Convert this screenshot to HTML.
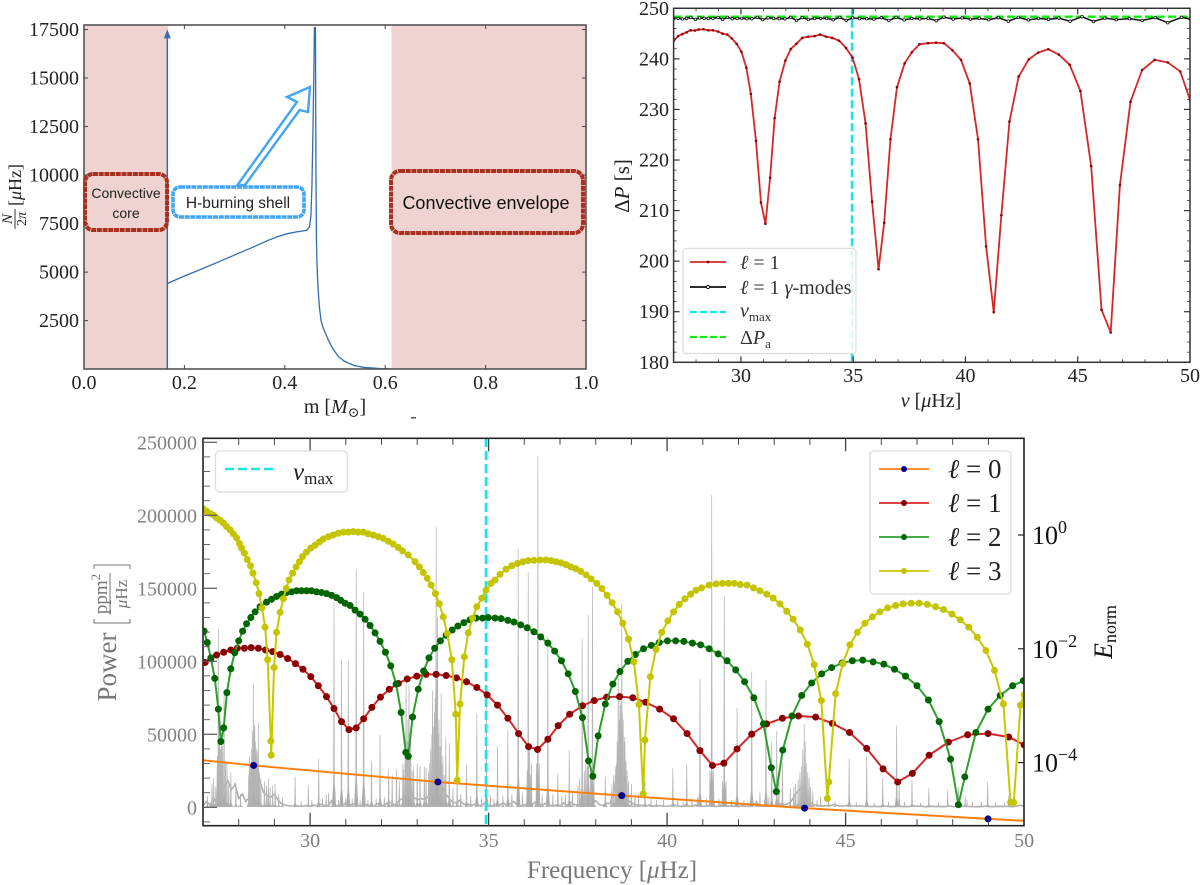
<!DOCTYPE html>
<html lang="en">
<head>
<meta charset="utf-8">
<title>Stellar oscillation chart</title>
<style>
html,body{margin:0;padding:0;background:#fff;}
svg{display:block;font-family:"Liberation Serif","DejaVu Serif",serif;filter:blur(0.35px);}
</style>
</head>
<body>
<svg id="figure" xmlns="http://www.w3.org/2000/svg" width="1200" height="885" viewBox="0 0 1200 885">
  <defs>
    <clipPath id="clip-a"><rect x="84" y="25" width="502" height="344"/></clipPath>
    <clipPath id="clip-b"><rect x="673.6" y="8.3" width="516.4" height="354"/></clipPath>
    <clipPath id="clip-c"><rect x="203" y="438.3" width="821" height="387.4"/></clipPath>
  </defs>
  <rect width="1200" height="885" fill="#fff"/>

  <!-- PANEL A -->
  <g id="panel-a">
    <rect x="84" y="25" width="84" height="344" fill="#eed3d0"/>
    <rect x="391.5" y="25" width="194.5" height="344" fill="#eed3d0"/>
    <g id="a-marks" clip-path="url(#clip-a)"></g>
    <rect x="84" y="25" width="502" height="344" fill="none" stroke="#555" stroke-width="1.6"/>
    <g id="a-ticks"></g>

    <rect x="85" y="174" width="82" height="56" rx="8" fill="none" stroke="#a8301f" stroke-width="4" stroke-dasharray="5 0.7"/>
    <text x="126" y="198" font-family="Liberation Sans, sans-serif" font-size="14" text-anchor="middle" fill="#222">Convective</text>
    <text x="126" y="218" font-family="Liberation Sans, sans-serif" font-size="14" text-anchor="middle" fill="#222">core</text>
    <rect x="173" y="187" width="131" height="30" rx="7" fill="#fff" stroke="#42a5f5" stroke-width="3.6" stroke-dasharray="5 0.7"/>
    <text x="238" y="208" font-family="Liberation Sans, sans-serif" font-size="15.5" text-anchor="middle" fill="#222">H-burning shell</text>
    <polygon points="237.5,185 297,102 287,97 310,87 308,112 299.6,110 245,185" fill="#fff" stroke="#42a5f5" stroke-width="2.4" stroke-linejoin="miter"/>
    <rect x="391" y="171" width="192" height="62" rx="9" fill="none" stroke="#a8301f" stroke-width="4" stroke-dasharray="5 0.7"/>
    <text x="486" y="209" font-family="Liberation Sans, sans-serif" font-size="18" text-anchor="middle" fill="#111">Convective envelope</text>

    <text x="335" y="413" font-size="20" text-anchor="middle" fill="#222">m [<tspan font-style="italic">M</tspan><tspan font-size="14" dy="4">⊙</tspan><tspan dy="-4">]</tspan></text>
    <g transform="translate(0,197) rotate(-90)">
      <text x="-22" y="12" font-size="15" font-style="italic" text-anchor="middle" fill="#222">N</text>
      <line x1="-32" x2="-12" y1="15" y2="15" stroke="#222" stroke-width="0.9"/>
      <text x="-22" y="26" font-size="14" text-anchor="middle" fill="#222">2<tspan font-style="italic">π</tspan></text>
      <text x="-9" y="21" font-size="18" fill="#222">[<tspan font-style="italic">μ</tspan>Hz]</text>
    </g>
    <rect x="411" y="417" width="5" height="1.5" fill="#555"/>
  </g>

  <!-- PANEL B -->
  <g id="panel-b">
    <g id="b-marks" clip-path="url(#clip-b)"></g>
    <rect x="673.6" y="8.3" width="516.4" height="354" fill="none" stroke="#333" stroke-width="1.5"/>
    <g id="b-ticks"></g>
    <g id="b-legend">
      <rect x="683" y="248.5" width="173" height="105" rx="3" fill="#fff" fill-opacity="0.82" stroke="#ddd" stroke-width="1.2"/>
      <line x1="690" x2="726" y1="262" y2="262" stroke="#d62728" stroke-width="1.8"/>
      <circle cx="708" cy="262" r="1.4" fill="#8b0000"/>
      <text x="740" y="269" font-size="20" fill="#333"><tspan font-style="italic">ℓ</tspan> = 1</text>
      <line x1="690" x2="726" y1="287" y2="287" stroke="#111" stroke-width="1.8"/>
      <circle cx="708" cy="287" r="1.6" fill="#fff" stroke="#111"/>
      <text x="740" y="294" font-size="20" fill="#333"><tspan font-style="italic">ℓ</tspan> = 1 <tspan font-style="italic">γ</tspan>-modes</text>
      <line x1="690" x2="726" y1="312" y2="312" stroke="#19e5e5" stroke-width="2.2" stroke-dasharray="7 3"/>
      <text x="740" y="317" font-size="20" font-style="italic" fill="#333">ν<tspan font-size="13" font-style="normal" dy="4">max</tspan></text>
      <line x1="690" x2="726" y1="337" y2="337" stroke="#19e619" stroke-width="2.2" stroke-dasharray="7 3"/>
      <text x="740" y="344" font-size="20" fill="#333">Δ<tspan font-style="italic">P</tspan><tspan font-size="13" dy="4">a</tspan></text>
    </g>
    <text x="931" y="407" font-size="20" text-anchor="middle" fill="#222"><tspan font-style="italic">ν</tspan> [<tspan font-style="italic">μ</tspan>Hz]</text>
    <text transform="translate(629,186) rotate(-90)" font-size="21" text-anchor="middle" fill="#222">Δ<tspan font-style="italic">P</tspan> [s]</text>
  </g>

  <!-- PANEL C -->
  <g id="panel-c">
    <g id="c-marks" clip-path="url(#clip-c)"></g>
    <rect x="203" y="438.3" width="821" height="387.4" fill="none" stroke="#222" stroke-width="1.6"/>
    <g id="c-ticks"></g>

    <g>
      <rect x="215.5" y="451" width="132" height="41" rx="4" fill="#fff" fill-opacity="0.85" stroke="#ddd" stroke-width="1.3"/>
      <line x1="225" x2="274" y1="469" y2="469" stroke="#19e5e5" stroke-width="2.4" stroke-dasharray="9 4"/>
      <text x="293" y="480" font-size="25" font-style="italic" fill="#222">ν<tspan font-size="17" font-style="normal" dy="4">max</tspan></text>
    </g>
    <g>
      <rect x="870" y="451" width="141" height="143" rx="4" fill="#fff" fill-opacity="0.88" stroke="#ddd" stroke-width="1.3"/>
      <line x1="879" x2="929" y1="469" y2="469" stroke="#ff7f0e" stroke-width="1.8"/>
      <circle cx="904" cy="469" r="3" fill="#00008b"/>
      <text x="948" y="478" font-size="27" fill="#222"><tspan font-style="italic">ℓ</tspan> = 0</text>
      <line x1="879" x2="929" y1="503" y2="503" stroke="#d62728" stroke-width="1.8"/>
      <circle cx="904" cy="503" r="3" fill="#8b0000"/>
      <text x="948" y="512" font-size="27" fill="#222"><tspan font-style="italic">ℓ</tspan> = 1</text>
      <line x1="879" x2="929" y1="537" y2="537" stroke="#2ca02c" stroke-width="1.8"/>
      <circle cx="904" cy="537" r="3" fill="#006400"/>
      <text x="948" y="546" font-size="27" fill="#222"><tspan font-style="italic">ℓ</tspan> = 2</text>
      <line x1="879" x2="929" y1="571" y2="571" stroke="#c8c800" stroke-width="1.8"/>
      <circle cx="904" cy="571" r="3" fill="#c4c400"/>
      <text x="948" y="580" font-size="27" fill="#222"><tspan font-style="italic">ℓ</tspan> = 3</text>
    </g>

    <text x="612" y="878" font-size="25" text-anchor="middle" fill="#777">Frequency [<tspan font-style="italic">μ</tspan>Hz]</text>
    <g>
      <text transform="translate(116,667) rotate(-90)" font-size="27" text-anchor="middle" fill="#777">Power</text>
      <g transform="translate(0,594) rotate(-90)">
        <text x="0" y="107" font-size="19" text-anchor="middle" fill="#777">ppm<tspan font-size="13" dy="-7">2</tspan></text>
        <line x1="-21" x2="21" y1="110" y2="110" stroke="#777" stroke-width="1"/>
        <text x="0" y="127" font-size="17" text-anchor="middle" fill="#777"><tspan font-style="italic">μ</tspan>Hz</text>
        <path d="M-25 94 L-29 94 L-29 130 L-25 130 M25 94 L29 94 L29 130 L25 130" fill="none" stroke="#777" stroke-width="1"/>
      </g>
    </g>
    <text transform="translate(1112,632) rotate(-90)" font-size="26" font-style="italic" text-anchor="middle" fill="#111">E<tspan font-size="18" font-style="normal" dy="4">norm</tspan></text>
  </g>
</svg>

<script>
/* PANEL A DATA */
const massTicks = [0, 0.2, 0.4, 0.6, 0.8, 1.0];
const buoyancyTicks = [2500, 5000, 7500, 10000, 12500, 15000, 17500];
const coreBoundaryMass = [0.166, 0.166];
const coreBoundaryN = [20, 17300];
const shellMass = [0.166, 0.2, 0.237, 0.27, 0.306, 0.337, 0.367, 0.386, 0.405, 0.425, 0.443, 0.449, 0.452, 0.454, 0.456, 0.458, 0.459, 0.461, 0.462, 0.463, 0.464, 0.466, 0.469, 0.472, 0.476, 0.481, 0.488, 0.497, 0.507, 0.519, 0.538, 0.558, 0.596, 0.611];
const shellN = [4415, 4800, 5185, 5550, 5950, 6290, 6640, 6830, 6980, 7080, 7150, 7320, 7900, 9400, 12100, 15500, 17600, 17600, 10400, 6640, 5500, 4240, 3200, 2530, 2150, 1850, 1430, 1000, 650, 400, 190, 90, 20, 20];

/* PANEL B DATA */
const nuTicks = [30, 35, 40, 45, 50];
const deltaPTicks = [180, 190, 200, 210, 220, 230, 240, 250];
const l1Nu = [27, 27.2, 27.39, 27.58, 27.76, 27.95, 28.12, 28.33, 28.55, 28.75, 28.98, 29.18, 29.39, 29.59, 29.81, 30.02, 30.24, 30.44, 30.67, 30.89, 31.09, 31.3, 31.5, 31.72, 31.98, 32.22, 32.47, 32.73, 33, 33.28, 33.53, 33.79, 34.06, 34.37, 34.68, 34.97, 35.26, 35.55, 35.84, 36.13, 36.38, 36.66, 36.95, 37.29, 37.61, 37.95, 38.33, 38.69, 39.04, 39.42, 39.8, 40.19, 40.56, 40.92, 41.26, 41.6, 41.96, 42.37, 42.82, 43.24, 43.69, 44.16, 44.64, 45.12, 45.6, 46.06, 46.47, 46.88, 47.35, 47.87, 48.43, 49.01, 49.57, 50];
const l1DeltaP = [243.5, 244.5, 244.9, 245.25, 245.65, 245.6, 245.8, 245.85, 245.65, 245.65, 245.4, 245, 244.8, 244.05, 242.95, 241.4, 238.25, 233.1, 223.8, 211.6, 207.4, 216.5, 228.3, 235.5, 239.7, 241.95, 243, 244.15, 244.4, 244.5, 244.8, 244.4, 244.15, 243.6, 242.15, 240.25, 236, 227.25, 211.75, 198.4, 207.6, 224.1, 234.4, 239.1, 241.3, 242.9, 243.1, 243.2, 243.1, 241.7, 239.8, 235.15, 224.1, 202.9, 189.9, 209.1, 227.6, 236.5, 239.9, 241.25, 241.9, 240.85, 238.85, 233.65, 218.8, 190.4, 185.9, 215.05, 231.5, 237.8, 239.8, 239.3, 237.5, 231.9];
const gammaNu = [27.01, 27.2, 27.39, 27.58, 27.76, 27.97, 28.16, 28.36, 28.55, 28.75, 28.98, 29.18, 29.4, 29.61, 29.83, 30.03, 30.27, 30.49, 30.73, 30.97, 31.21, 31.45, 31.71, 31.96, 32.22, 32.47, 32.73, 33, 33.28, 33.55, 33.82, 34.11, 34.4, 34.69, 34.98, 35.29, 35.6, 35.92, 36.25, 36.59, 36.91, 37.27, 37.61, 37.97, 38.34, 38.7, 39.04, 39.45, 39.85, 40.22, 40.61, 41.04, 41.47, 41.91, 42.35, 42.8, 43.26, 43.7, 44.16, 44.66, 45.19, 45.7, 46.21, 46.72, 47.3, 47.87, 48.45, 49.01, 49.62, 50];
const gammaDeltaP = [248, 248, 247.9, 248, 248.2, 247.8, 248.1, 248, 248, 248, 248.2, 247.8, 248.2, 247.95, 248, 248, 247.95, 247.95, 248.2, 247.75, 248.1, 248, 247.95, 247.9, 248.2, 247.6, 248.15, 247.8, 248, 248, 248, 247.75, 248.2, 247.6, 248.1, 247.95, 247.95, 247.85, 248.15, 247.6, 248.2, 247.7, 248, 247.9, 248, 247.55, 248.25, 247.85, 248.1, 247.85, 248, 247.75, 248.15, 247.45, 248.2, 247.7, 248, 247.8, 248.05, 247.45, 248.35, 247.4, 248.05, 247.75, 247.95, 247.6, 248.15, 247.15, 248.2, 247.9];
const numaxB = [34.95];
const deltaPa = [248.35];

/* PANEL C DATA */
const freqTicks = [30, 35, 40, 45, 50];
const powerTicks = [0, 50000, 100000, 150000, 200000, 250000];
const energyLogTicks = [0, -2, -4];
const numaxC = [34.93];

const l0Freq = [23.27, 28.42, 33.58, 38.73, 43.85, 48.99, 54.14];
const l0LogE = [-3.72, -4.05, -4.34, -4.58, -4.80, -4.99, -5.15];

const l1Freq = [27.06, 27.22, 27.38, 27.58, 27.78, 27.96, 28.16, 28.35, 28.55, 28.75, 28.95, 29.16, 29.37, 29.59, 29.80, 30.02, 30.23, 30.46, 30.67, 30.88, 31.09, 31.29, 31.50, 31.73, 31.97, 32.22, 32.47, 32.72, 32.99, 33.25, 33.53, 33.81, 34.10, 34.38, 34.67, 34.96, 35.25, 35.54, 35.84, 36.12, 36.37, 36.66, 36.95, 37.27, 37.63, 37.96, 38.31, 38.67, 39.04, 39.40, 39.79, 40.18, 40.56, 40.92, 41.27, 41.59, 41.96, 42.37, 42.79, 43.23, 43.68, 44.16, 44.63, 45.11, 45.59, 46.05, 46.46, 46.87, 47.34, 47.88, 48.42, 48.99, 49.57, 50];
const l1LogE = [-2.24, -2.17, -2.11, -2.06, -2.02, -1.99, -1.99, -1.98, -1.99, -2.02, -2.05, -2.10, -2.17, -2.26, -2.36, -2.49, -2.65, -2.84, -3.05, -3.28, -3.42, -3.39, -3.23, -3.03, -2.85, -2.71, -2.61, -2.53, -2.48, -2.45, -2.45, -2.47, -2.51, -2.58, -2.68, -2.81, -2.99, -3.22, -3.49, -3.72, -3.77, -3.59, -3.35, -3.15, -3.00, -2.91, -2.85, -2.84, -2.86, -2.94, -3.06, -3.23, -3.49, -3.79, -4.05, -4.01, -3.76, -3.50, -3.32, -3.22, -3.18, -3.20, -3.31, -3.47, -3.75, -4.11, -4.34, -4.19, -3.87, -3.64, -3.51, -3.49, -3.55, -3.69];

const l2Freq = [27.03, 27.12, 27.22, 27.33, 27.43, 27.50, 27.58, 27.67, 27.78, 27.89, 28.00, 28.11, 28.22, 28.34, 28.46, 28.60, 28.78, 28.92, 29.06, 29.20, 29.34, 29.48, 29.62, 29.76, 29.90, 30.04, 30.18, 30.32, 30.46, 30.60, 30.74, 30.86, 30.98, 31.12, 31.26, 31.40, 31.54, 31.68, 31.82, 31.96, 32.11, 32.26, 32.41, 32.55, 32.68, 32.75, 32.87, 33.03, 33.18, 33.33, 33.49, 33.65, 33.81, 33.98, 34.14, 34.31, 34.48, 34.65, 34.83, 34.99, 35.18, 35.35, 35.54, 35.71, 35.90, 36.08, 36.27, 36.46, 36.66, 36.85, 37.04, 37.23, 37.43, 37.63, 37.80, 37.92, 38.07, 38.27, 38.48, 38.68, 38.90, 39.11, 39.34, 39.56, 39.78, 40.01, 40.24, 40.47, 40.71, 40.94, 41.18, 41.43, 41.68, 41.92, 42.17, 42.43, 42.70, 42.92, 43.06, 43.24, 43.50, 43.77, 44.05, 44.33, 44.61, 44.90, 45.19, 45.48, 45.77, 46.07, 46.37, 46.68, 47.00, 47.32, 47.62, 47.94, 48.16, 48.34, 48.65, 48.99, 49.33, 49.68, 49.98];
const l2LogE = [-1.69, -1.89, -2.16, -2.52, -3.06, -3.63, -3.39, -2.77, -2.35, -2.07, -1.86, -1.69, -1.56, -1.45, -1.35, -1.26, -1.18, -1.13, -1.08, -1.04, -1.01, -1.00, -0.98, -0.98, -0.98, -0.98, -1.00, -1.01, -1.03, -1.06, -1.10, -1.15, -1.20, -1.24, -1.32, -1.39, -1.48, -1.59, -1.72, -1.87, -2.06, -2.30, -2.62, -3.12, -3.82, -3.89, -3.20, -2.71, -2.39, -2.16, -1.99, -1.86, -1.76, -1.67, -1.60, -1.54, -1.49, -1.46, -1.46, -1.45, -1.46, -1.47, -1.50, -1.53, -1.58, -1.63, -1.70, -1.79, -1.90, -2.04, -2.21, -2.44, -2.75, -3.21, -3.97, -4.24, -3.53, -2.97, -2.62, -2.40, -2.22, -2.10, -2.00, -1.94, -1.89, -1.86, -1.86, -1.87, -1.90, -1.93, -2.00, -2.09, -2.21, -2.37, -2.58, -2.86, -3.32, -4.09, -4.51, -3.78, -3.18, -2.82, -2.60, -2.44, -2.33, -2.25, -2.21, -2.20, -2.23, -2.27, -2.36, -2.48, -2.65, -2.90, -3.28, -3.94, -4.74, -4.25, -3.47, -3.06, -2.82, -2.65, -2.56];

const l3Freq = [27.01, 27.10, 27.20, 27.29, 27.38, 27.48, 27.57, 27.66, 27.76, 27.85, 27.94, 28.02, 28.08, 28.16, 28.24, 28.33, 28.40, 28.49, 28.57, 28.65, 28.74, 28.81, 28.90, 28.91, 28.99, 29.06, 29.16, 29.25, 29.33, 29.41, 29.51, 29.61, 29.70, 29.79, 29.90, 30.02, 30.14, 30.26, 30.37, 30.51, 30.65, 30.79, 30.93, 31.07, 31.21, 31.35, 31.49, 31.63, 31.77, 31.91, 32.05, 32.19, 32.33, 32.47, 32.59, 32.75, 32.94, 33.06, 33.17, 33.28, 33.39, 33.51, 33.62, 33.73, 33.84, 33.97, 34.08, 34.12, 34.20, 34.32, 34.43, 34.55, 34.67, 34.81, 34.93, 35.07, 35.18, 35.32, 35.49, 35.65, 35.81, 35.96, 36.11, 36.27, 36.44, 36.60, 36.75, 36.89, 37.03, 37.17, 37.30, 37.44, 37.58, 37.73, 37.87, 38.03, 38.17, 38.32, 38.46, 38.61, 38.76, 38.92, 39.07, 39.21, 39.33, 39.38, 39.53, 39.69, 39.85, 40.02, 40.18, 40.34, 40.50, 40.66, 40.81, 40.97, 41.18, 41.37, 41.55, 41.72, 41.88, 42.05, 42.24, 42.42, 42.60, 42.79, 42.97, 43.16, 43.35, 43.53, 43.73, 43.93, 44.12, 44.32, 44.49, 44.53, 44.72, 44.92, 45.12, 45.33, 45.54, 45.75, 45.96, 46.18, 46.40, 46.61, 46.84, 47.06, 47.29, 47.52, 47.74, 47.98, 48.21, 48.45, 48.69, 48.93, 49.17, 49.42, 49.62, 49.71, 49.90, 50];
const l3LogE = [0.46, 0.42, 0.38, 0.35, 0.30, 0.26, 0.21, 0.15, 0.09, 0.02, -0.05, -0.15, -0.23, -0.32, -0.43, -0.54, -0.67, -0.84, -1.03, -1.28, -1.62, -2.19, -3.62, -3.87, -2.33, -1.71, -1.36, -1.12, -0.94, -0.79, -0.67, -0.56, -0.47, -0.38, -0.30, -0.23, -0.18, -0.12, -0.07, -0.03, 0, 0.03, 0.05, 0.05, 0.06, 0.05, 0.05, 0.02, 0, -0.03, -0.06, -0.11, -0.16, -0.22, -0.28, -0.35, -0.47, -0.56, -0.66, -0.76, -0.88, -1.03, -1.21, -1.44, -1.73, -2.19, -3.15, -4.31, -2.97, -2.14, -1.72, -1.46, -1.26, -1.11, -0.97, -0.85, -0.79, -0.69, -0.60, -0.54, -0.50, -0.47, -0.45, -0.445, -0.44, -0.44, -0.45, -0.47, -0.49, -0.52, -0.56, -0.59, -0.64, -0.70, -0.77, -0.85, -0.94, -1.06, -1.19, -1.35, -1.55, -1.83, -2.23, -2.98, -4.55, -3.60, -2.49, -2.01, -1.71, -1.51, -1.35, -1.22, -1.12, -1.04, -0.97, -0.93, -0.88, -0.86, -0.85, -0.85, -0.85, -0.87, -0.88, -0.93, -0.98, -1.04, -1.11, -1.21, -1.34, -1.48, -1.67, -1.92, -2.28, -2.91, -4.63, -4.34, -2.79, -2.26, -1.93, -1.71, -1.55, -1.44, -1.35, -1.28, -1.24, -1.21, -1.20, -1.20, -1.22, -1.26, -1.31, -1.39, -1.49, -1.62, -1.80, -2.03, -2.38, -2.97, -4.70, -4.70, -2.99, -2.81];

/* grey spectrum: noise floor sampled every 0.1 microHz from 27.0, then individual peaks */
const floorStartFreq = 27;
const floorStepFreq = 0.1;
const floorPower = [
 1000,4000,1500,6000,2500,9000,14000,18000,12000,16000,
 6000,9000,4000,7000,14000,26000,17000,10000,8000,7000,
 9000,5000,2500,1500,1000,800,1000,700,900,1200,
 900,1500,1000,2000,1300,1000,4500,1200,1000,800,
 3000,1000,2500,800,1400,900,1800,700,1100,2600,
 1200,1500,4000,2500,1500,5000,6000,9000,14000,7000,
 5000,6000,5500,7000,9000,16000,22000,15000,9000,6000,
 3500,3000,5000,2000,2500,1200,2000,1100,1400,3000,
 1200,1000,2000,1200,3000,1300,2200,4000,2000,1100,
 1500,2500,1200,3500,1600,1200,2800,1500,1100,1500,
 1000,3000,1300,3500,2000,1400,1200,2500,3000,2000,
 4500,1800,1300,3000,2500,10000,24000,12000,6000,5000,
 3000,2000,1500,1300,1000,1500,800,1000,1200,700,
 800,1000,1500,900,700,1200,800,600,1500,900,
 700,800,1100,700,600,1500,900,700,1000,700,
 500,1200,800,600,900,3500,1000,600,1800,700,
 1200,2000,2500,1800,2500,5000,9000,12000,14000,8000,
 4000,1800,1500,1000,1000,1200,1400,1800,1000,800,
 1200,1000,900,800,1000,700,600,500,700,500,
 500,800,500,600,500,700,500,500,600,1000,
 700,800,500,400,700,500,600,500,400,900,
 500,400,500,800,600,500,400,500,400,800,
 500,400,500,700,600,700,500,400,800,1500,
 700];
const peakFreq = [
 27.12, 27.25, 27.36, 27.43, 27.47, 27.52, 27.59, 27.67, 27.78, 27.92, 28.05, 28.3, 28.36, 28.41, 28.45, 28.5, 28.55, 28.62, 28.72, 28.83, 28.95, 29.02, 29.12, 29.22,
 29.58, 29.95, 30.24, 30.45, 30.52, 30.67, 30.88, 31.07, 31.29, 31.5, 31.72, 31.96, 32.2, 32.3, 32.42, 32.5, 32.6, 32.66, 32.69, 32.74, 32.77, 32.82, 32.9, 33.0, 33.08, 33.2, 33.25, 33.32,
 33.38, 33.43, 33.48, 33.53, 33.57, 33.61, 33.67, 33.72, 33.8, 33.9, 34.12, 34.38, 34.67, 34.94, 35.25,
 35.54, 35.83, 36.11, 36.15, 36.2, 36.38, 36.66, 36.94, 37.26, 37.5, 37.62, 37.72, 37.79, 37.85, 37.91, 38.27, 38.45, 38.58, 38.63, 38.68, 38.73, 38.77, 38.82, 38.88, 39.0, 39.2, 39.38,
 40.16, 40.55, 40.92, 41.25, 41.6, 41.96, 42.37, 42.6, 42.77, 42.93, 43.07, 43.13,
 43.23, 43.45, 43.6, 43.67, 43.76, 43.84, 43.9, 43.98, 44.08, 44.3, 44.52, 45.1, 45.59, 46.04, 46.43, 46.5, 46.86, 47.33, 47.86, 48.16, 48.35, 48.98, 49.57];
const peakPower = [
 8000, 16000, 14000, 122000, 60000, 50000, 80000, 30000, 24000, 14000, 9000, 35000, 40000, 85000, 57000, 40000, 58000, 20000, 18000, 20000, 15000, 16000, 9000, 7000,
 21000, 15000, 33000, 9000, 10000, 140000, 101000, 100000, 163000, 147000, 32000, 50000, 26000, 22000, 26000, 18000, 30000, 38000, 90000, 60000, 84000, 45000, 28000, 30000, 28000, 28000, 27000, 25000,
 40000, 80000, 65000, 192000, 130000, 60000, 78000, 35000, 48000, 44000, 20000, 29000, 64000, 75000, 42000,
 53000, 177000, 161000, 40000, 30000, 240000, 117000, 23000, 39000, 15000, 115000, 30000, 132000, 30000, 151000, 21000, 16000, 30000, 98000, 75000, 139000, 60000, 45000, 25000, 16000, 9000, 18000,
 27000, 30000, 88000, 214000, 145000, 68000, 93000, 11000, 87000, 45000, 52000, 22000,
 30000, 13000, 16000, 19000, 28000, 57000, 30000, 20000, 11000, 7000, 8000, 33000, 35000, 20000, 56000, 18000, 19000, 13000, 12000, 14000, 8000, 17500, 8000];
const ridgeFreq = [
 27.30, 27.40, 27.45, 27.50, 27.55, 27.63, 27.72,
 28.28, 28.33, 28.38, 28.43, 28.47, 28.53, 28.58, 28.78, 28.88,
 29.75, 30.05, 30.35, 30.62, 30.8, 31.0, 31.18, 31.4, 31.62, 31.85, 32.08,
 32.62, 32.72, 32.8, 32.86,
 33.35, 33.41, 33.45, 33.50, 33.55, 33.59, 33.64, 33.69, 33.76,
 34.0, 34.22, 34.5, 34.8, 35.05, 35.15, 35.4, 35.65, 35.95,
 36.08, 36.18, 36.34, 36.42, 36.5, 36.8, 37.05, 37.15, 37.35,
 37.55, 37.68, 37.76, 37.88, 37.95,
 38.5, 38.55, 38.6, 38.66, 38.7, 38.75, 38.8, 38.85, 38.92,
 39.1, 39.55, 39.7, 39.9, 40.3, 40.45, 40.7, 40.85, 41.1,
 41.2, 41.3, 41.45, 41.55, 41.65, 41.8, 42.15, 42.5, 42.85,
 43.55, 43.72, 43.8, 43.87, 43.94, 44.02,
 44.2, 44.7, 45.3, 45.8, 46.2, 46.65, 47.1, 47.6, 48.4, 48.55, 48.8, 49.2, 49.45, 49.7];
const ridgePower = [
 20000, 35000, 45000, 40000, 42000, 32000, 18000,
 22000, 30000, 52000, 55000, 45000, 38000, 24000, 15000, 14000,
 4000, 5000, 6000, 5000, 5000, 6000, 6000, 5000, 5000, 6000, 7000,
 26000, 45000, 35000, 25000,
 30000, 50000, 55000, 75000, 88000, 50000, 42000, 30000, 22000,
 13000, 9000, 8000, 6000, 8000, 6000, 8000, 9000, 10000,
 25000, 22000, 30000, 30000, 9000, 9000, 8000, 9000, 11000,
 20000, 25000, 28000, 25000, 20000,
 22000, 28000, 45000, 60000, 70000, 65000, 48000, 32000, 18000,
 9000, 6000, 5000, 5000, 5000, 4000, 6000, 7000, 6000,
 25000, 25000, 6000, 18000, 18000, 5000, 5000, 5000, 7000,
 14000, 24000, 40000, 45000, 24000, 14000,
 5000, 4000, 3500, 3000, 4000, 3500, 3000, 3000, 5000, 4000, 4000, 3000, 3000, 3000];

/* AXIS FUNCTIONS */
const NS = 'http://www.w3.org/2000/svg';
const xA = m => 84 + m * 502;
const yA = n => 29.5 + (17500 - n) * 0.01941;
const xB = v => 673.6 + (v - 27) * 22.45;
const yB = d => 8.3 + (250 - d) * 5.057;
const xC = f => 203 + (f - 27) * 35.7;
const yP = p => 807.3 - p * 0.00146;
const yE = l => 535 - l * 56.9;

function add(parent, tag, attrs, text) {
  const el = document.createElementNS(NS, tag);
  for (const k in attrs) el.setAttribute(k, attrs[k]);
  if (text !== undefined) el.textContent = text;
  parent.appendChild(el);
  return el;
}
function pointsOf(xs, ys, fx, fy) {
  const out = [];
  const n = Math.min(xs.length, ys.length);
  for (let i = 0; i < n; i++) out.push(fx(xs[i]).toFixed(2) + ',' + fy(ys[i]).toFixed(2));
  return out.join(' ');
}
function range(start, stop, step) {
  const out = [];
  for (let v = start; v <= stop + 1e-9; v += step) out.push(Math.round(v * 1000) / 1000);
  return out;
}

/* PANEL A */
const aMarks = document.getElementById('a-marks');
const aTicks = document.getElementById('a-ticks');

const coreLine = add(aMarks, 'polyline', {points: pointsOf(coreBoundaryMass, coreBoundaryN, xA, yA), fill: 'none', stroke: '#2f6db3', 'stroke-width': 1.5});



const coreTipX = xA(coreBoundaryMass[1]);
const coreTipY = yA(coreBoundaryN[1]);
const coreHead = add(aMarks, 'polygon', {points: (coreTipX - 3.5) + ',' + (coreTipY + 5) + ' ' + coreTipX + ',' + (coreTipY - 4) + ' ' + (coreTipX + 3.5) + ',' + (coreTipY + 5), fill: '#3a6ea5'});



const shellLine = add(aMarks, 'polyline', {points: pointsOf(shellMass, shellN, xA, yA), fill: 'none', stroke: '#2f6db3', 'stroke-width': 1.3});



massTicks.forEach(function (m) {
  const x = xA(m);
  if (m > 0 && m < 1) {
    const t1 = add(aTicks, 'line', {x1: x, x2: x, y1: 369, y2: 365, stroke: '#444', 'stroke-width': 1});
    
    
    const t2 = add(aTicks, 'line', {x1: x, x2: x, y1: 25, y2: 29, stroke: '#444', 'stroke-width': 1});
    
    
  }
  const lab = add(aTicks, 'text', {x: x, y: 389, 'font-size': 20, 'text-anchor': 'middle', fill: '#222'}, m.toFixed(1));
  
  
});
buoyancyTicks.forEach(function (n) {
  const y = yA(n);
  const t1 = add(aTicks, 'line', {x1: 84, x2: 88, y1: y, y2: y, stroke: '#444', 'stroke-width': 1});
  
  
  const t2 = add(aTicks, 'line', {x1: 586, x2: 582, y1: y, y2: y, stroke: '#444', 'stroke-width': 1});
  
  
  const lab = add(aTicks, 'text', {x: 79, y: y + 6.5, 'font-size': 20, 'text-anchor': 'end', fill: '#222'}, String(n));
  
  
});

/* PANEL B */
const bMarks = document.getElementById('b-marks');
const bTicks = document.getElementById('b-ticks');

const paLine = add(bMarks, 'line', {x1: xB(27), x2: xB(50), y1: yB(deltaPa[0]), y2: yB(deltaPa[0]), stroke: '#00f000', 'stroke-width': 2.4, 'stroke-dasharray': '8 3.5'});



const numaxLineB = add(bMarks, 'line', {x1: xB(numaxB[0]), x2: xB(numaxB[0]), y1: yB(250), y2: yB(180), stroke: '#19e5e5', 'stroke-width': 2.6, 'stroke-dasharray': '8 3.5'});



const gammaLine = add(bMarks, 'polyline', {points: pointsOf(gammaNu, gammaDeltaP, xB, yB), fill: 'none', stroke: '#111', 'stroke-width': 1.5});


gammaNu.forEach(function (v, i) {
  const dot = add(bMarks, 'circle', {cx: xB(v), cy: yB(gammaDeltaP[i]), r: 1.3, fill: '#fff', stroke: '#111', 'stroke-width': 0.8});
  
  
});

const l1SpacingLine = add(bMarks, 'polyline', {points: pointsOf(l1Nu, l1DeltaP, xB, yB), fill: 'none', stroke: '#d62728', 'stroke-width': 1.8});


l1Nu.forEach(function (v, i) {
  const dot = add(bMarks, 'circle', {cx: xB(v), cy: yB(l1DeltaP[i]), r: 1.3, fill: '#8b0000'});
  
  
});

range(27, 50, 1).forEach(function (v) {
  const major = nuTicks.indexOf(v) >= 0;
  const len = major ? 6 : 3;
  const x = xB(v);
  if (v > 27 && v < 50) {
    const t1 = add(bTicks, 'line', {x1: x, x2: x, y1: 362.3, y2: 362.3 - len, stroke: '#333', 'stroke-width': major ? 1.2 : 0.8});
    
    
    const t2 = add(bTicks, 'line', {x1: x, x2: x, y1: 8.3, y2: 8.3 + len, stroke: '#333', 'stroke-width': major ? 1.2 : 0.8});
    
    
  }
  if (major) {
    const lab = add(bTicks, 'text', {x: x, y: 382, 'font-size': 20, 'text-anchor': 'middle', fill: '#222'}, String(v));
    
    
  }
});
range(180, 250, 2).forEach(function (d) {
  const major = deltaPTicks.indexOf(d) >= 0;
  const len = major ? 6 : 3;
  const y = yB(d);
  const t1 = add(bTicks, 'line', {x1: 673.6, x2: 673.6 + len, y1: y, y2: y, stroke: '#333', 'stroke-width': major ? 1.2 : 0.8});
  
  
  const t2 = add(bTicks, 'line', {x1: 1190, x2: 1190 - len, y1: y, y2: y, stroke: '#333', 'stroke-width': major ? 1.2 : 0.8});
  
  
  if (major) {
    const lab = add(bTicks, 'text', {x: 669, y: y + 6.5, 'font-size': 20, 'text-anchor': 'end', fill: '#222'}, String(d));
    
    
  }
});

/* PANEL C */
const cMarks = document.getElementById('c-marks');
const cTicks = document.getElementById('c-ticks');

const floorPts = floorPower.map(function (p, i) {
  return xC(floorStartFreq + i * floorStepFreq).toFixed(2) + ',' + yP(p).toFixed(2);
}).join(' ');
const floorLine = add(cMarks, 'polyline', {points: floorPts, fill: 'none', stroke: '#b0b0b0', 'stroke-width': 1.6});



function drawSpike(f, p, name) {
  const pts = [
    xC(f - 0.05).toFixed(2) + ',' + yP(500).toFixed(2),
    xC(f - 0.012).toFixed(2) + ',' + yP(p * 0.12).toFixed(2),
    xC(f).toFixed(2) + ',' + yP(p).toFixed(2),
    xC(f + 0.012).toFixed(2) + ',' + yP(p * 0.12).toFixed(2),
    xC(f + 0.05).toFixed(2) + ',' + yP(500).toFixed(2)
  ].join(' ');
  const spike = add(cMarks, 'polygon', {points: pts, fill: '#aaaaaa', stroke: '#b4b4b4', 'stroke-width': 0.7});
  
  
}
ridgeFreq.forEach(function (f, i) {
  drawSpike(f, ridgePower[i], 'spectrum-ridge-peak');
});
peakFreq.forEach(function (f, i) {
  drawSpike(f, peakPower[i], 'spectrum-peak');
});

const numaxLineC = add(cMarks, 'line', {x1: xC(numaxC[0]), x2: xC(numaxC[0]), y1: 438, y2: 826, stroke: '#19e5e5', 'stroke-width': 2.8, 'stroke-dasharray': '9 4'});



function drawDegree(freqs, logs, lineColor, dotColor, name) {
  const line = add(cMarks, 'polyline', {points: pointsOf(freqs, logs, xC, yE), fill: 'none', stroke: lineColor, 'stroke-width': 2});
  
  
  freqs.forEach(function (f, i) {
    const dot = add(cMarks, 'circle', {cx: xC(f), cy: yE(logs[i]), r: 3.5, fill: dotColor});
    
    
  });
}
drawDegree(l0Freq, l0LogE, '#ff7f0e', '#00008b', 'degree-0');
drawDegree(l1Freq, l1LogE, '#d62728', '#8b0000', 'degree-1');
drawDegree(l2Freq, l2LogE, '#2ca02c', '#006400', 'degree-2');
drawDegree(l3Freq, l3LogE, '#c8c800', '#c4c400', 'degree-3');

range(27, 50, 1).forEach(function (f) {
  const major = freqTicks.indexOf(f) >= 0;
  const len = major ? 13 : 6.5;
  const x = xC(f);
  if (f > 27 && f < 50) {
    const t1 = add(cTicks, 'line', {x1: x, x2: x, y1: 825.7, y2: 825.7 - len, stroke: '#444', 'stroke-width': major ? 1.3 : 1});
    
    
    const t2 = add(cTicks, 'line', {x1: x, x2: x, y1: 438.3, y2: 438.3 + len, stroke: '#444', 'stroke-width': major ? 1.3 : 1});
    
    
  }
  if (major) {
    const lab = add(cTicks, 'text', {x: x, y: 847, 'font-size': 20, 'text-anchor': 'middle', fill: '#808080'}, String(f));
    
    
  }
});
range(-10000, 250000, 10000).forEach(function (p) {
  const major = powerTicks.indexOf(p) >= 0;
  const len = major ? 14 : 7;
  const y = yP(p);
  const t1 = add(cTicks, 'line', {x1: 203, x2: 203 + len, y1: y, y2: y, stroke: '#555', 'stroke-width': major ? 1.2 : 0.9});
  
  
  if (major) {
    const lab = add(cTicks, 'text', {x: 197, y: y + 7, 'font-size': 20, 'text-anchor': 'end', fill: '#808080'}, String(p));
    
    
  }
});
energyLogTicks.forEach(function (l) {
  const y = yE(l);
  const t = add(cTicks, 'line', {x1: 1024, x2: 1018, y1: y, y2: y, stroke: '#222', 'stroke-width': 1.2});
  
  
  const lab = add(cTicks, 'text', {x: 1032, y: y + 9, 'font-size': 26, fill: '#111'}, '10');
  
  
  const sup = add(lab, 'tspan', {'font-size': 18, dy: -11}, l === 0 ? '0' : '−' + Math.abs(l));
  
  
});
</script>
</body>
</html>
